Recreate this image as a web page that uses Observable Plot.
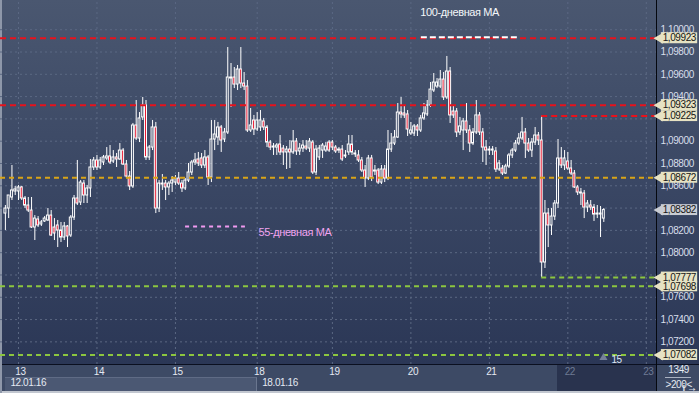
<!DOCTYPE html>
<html><head><meta charset="utf-8">
<script src="https://cdn.jsdelivr.net/npm/d3@7"></script>
<script src="https://cdn.jsdelivr.net/npm/@observablehq/plot@0.6"></script>
<style>
html,body{margin:0;padding:0;background:#2b3654;}
#chart{position:relative;width:699px;height:393px;overflow:hidden;font-family:"Liberation Sans",Arial,sans-serif;
 background:linear-gradient(to bottom,#4a5770 0px,#3a4764 180px,#2b3756 364px,#3d4a65 364px,#3d4a65 393px);}
.abs{position:absolute;}
#chart svg{position:absolute;left:0;top:0;}
#chart svg text{letter-spacing:-0.4px;}
</style></head>
<body>
<div id="chart">
  <div class="abs" style="left:0;top:364px;width:699px;height:1px;background:#0b1020"></div>
  <div class="abs" style="left:5px;top:377px;width:251px;height:13px;background:#4b5873;border-top:1px solid #5f6b85;border-right:1px solid #6a768f"></div>
  <div class="abs" style="left:557px;top:365px;width:99px;height:26px;background:#29334e"></div>
  <div class="abs" style="left:656px;top:0;width:1px;height:393px;background:#05080f"></div>
  <div class="abs" style="left:0;top:391px;width:699px;height:2px;background:#c2c7d0"></div>
  <div class="abs" style="left:0;top:0;width:2px;height:393px;background:#8e97a9"></div>
  <div class="abs" style="left:665px;top:377px;width:26px;height:1px;background:#aab2c2"></div>
</div>
<script>
// hourly EUR/USD candles, 12.01.16 20:00 -> 22.01.16, [open, high, low, close]
const ohlc = [
[1.08351,1.08423,1.08199,1.08396],[1.08396,1.08513,1.08306,1.08513],[1.08495,1.08782,1.08468,1.08558],[1.08549,1.08594,1.08513,1.08567],
[1.08549,1.08603,1.08468,1.08585],[1.08585,1.08594,1.08468,1.08486],[1.08486,1.08504,1.08396,1.08423],[1.08423,1.08495,1.08360,1.08378],
[1.08378,1.08495,1.08217,1.08226],[1.08226,1.08333,1.08109,1.08306],[1.08298,1.08324,1.08226,1.08244],[1.08253,1.08289,1.08235,1.08271],
[1.08280,1.08324,1.08271,1.08306],[1.08289,1.08396,1.08280,1.08333],[1.08333,1.08378,1.08145,1.08154],[1.08226,1.08306,1.08109,1.08172],
[1.08244,1.08289,1.08046,1.08199],[1.08199,1.08271,1.08091,1.08136],[1.08136,1.08271,1.08109,1.08235],[1.08235,1.08244,1.08046,1.08145],
[1.08154,1.08333,1.08136,1.08315],[1.08315,1.08513,1.08289,1.08486],[1.08486,1.08827,1.08423,1.08441],[1.08450,1.08647,1.08423,1.08629],
[1.08620,1.08647,1.08441,1.08513],[1.08513,1.08603,1.08441,1.08576],[1.08576,1.08836,1.08495,1.08764],[1.08764,1.08854,1.08737,1.08827],
[1.08827,1.08872,1.08737,1.08764],[1.08764,1.08854,1.08746,1.08827],[1.08809,1.08872,1.08782,1.08854],[1.08845,1.08943,1.08827,1.08863],
[1.08863,1.08961,1.08791,1.08809],[1.08818,1.08916,1.08800,1.08854],[1.08854,1.08890,1.08764,1.08836],[1.08836,1.08979,1.08827,1.08916],
[1.08916,1.08934,1.08782,1.08791],[1.08791,1.08827,1.08665,1.08683],[1.08683,1.08728,1.08558,1.08594],[1.08594,1.09159,1.08576,1.09141],
[1.09141,1.09365,1.09006,1.09024],[1.09024,1.09257,1.08988,1.09204],[1.09213,1.09392,1.09186,1.09320],[1.09320,1.09365,1.08827,1.08854],
[1.08854,1.08961,1.08827,1.08943],[1.08943,1.09186,1.08916,1.09123],[1.09123,1.09168,1.08351,1.08396],[1.08396,1.08647,1.08360,1.08620],
[1.08620,1.08701,1.08558,1.08611],[1.08620,1.08647,1.08468,1.08585],[1.08585,1.08638,1.08513,1.08620],[1.08620,1.08683,1.08540,1.08647],
[1.08629,1.08692,1.08603,1.08665],[1.08665,1.08719,1.08603,1.08620],[1.08620,1.08647,1.08540,1.08576],[1.08576,1.08665,1.08558,1.08647],
[1.08647,1.08800,1.08629,1.08719],[1.08719,1.08827,1.08692,1.08809],[1.08809,1.08890,1.08782,1.08827],[1.08836,1.08899,1.08773,1.08800],
[1.08845,1.08890,1.08755,1.08782],[1.08782,1.08916,1.08755,1.08854],[1.08854,1.08872,1.08603,1.08674],[1.08674,1.09186,1.08629,1.09015],
[1.09015,1.09186,1.08916,1.09060],[1.09033,1.09168,1.08961,1.09123],[1.09123,1.09141,1.08899,1.09006],[1.09015,1.09114,1.08988,1.09078],
[1.09078,1.09840,1.09060,1.09571],[1.09562,1.09697,1.09302,1.09571],[1.09571,1.09661,1.09472,1.09508],[1.09508,1.09679,1.09455,1.09643],
[1.09643,1.09840,1.09472,1.09517],[1.09517,1.09616,1.09455,1.09490],[1.09490,1.09544,1.09078,1.09096],[1.09096,1.09293,1.09078,1.09141],
[1.09186,1.09231,1.09051,1.09105],[1.09105,1.09257,1.09087,1.09186],[1.09123,1.09275,1.09087,1.09186],[1.09177,1.09204,1.09096,1.09123],
[1.09123,1.09141,1.08943,1.08988],[1.08988,1.09006,1.08916,1.08943],[1.08943,1.08979,1.08872,1.08952],[1.08943,1.08979,1.08872,1.08961],
[1.08970,1.09051,1.08872,1.08899],[1.08934,1.08961,1.08782,1.08899],[1.08899,1.08952,1.08746,1.08925],[1.08925,1.09006,1.08755,1.08899],
[1.08899,1.09096,1.08881,1.08997],[1.08997,1.09024,1.08872,1.08908],[1.08908,1.08979,1.08872,1.08934],[1.08934,1.09006,1.08899,1.08961],
[1.08952,1.09006,1.08916,1.08934],[1.08934,1.09024,1.08899,1.08997],[1.08988,1.09006,1.08701,1.08719],[1.08719,1.08961,1.08692,1.08925],
[1.08854,1.08961,1.08827,1.08934],[1.08916,1.08979,1.08845,1.08961],[1.08916,1.08988,1.08899,1.08952],[1.08988,1.09006,1.08899,1.08916],
[1.08988,1.09006,1.08916,1.08943],[1.08943,1.08961,1.08890,1.08908],[1.08925,1.08943,1.08890,1.08916],[1.08925,1.08961,1.08818,1.08836],
[1.08872,1.08916,1.08845,1.08863],[1.08899,1.09051,1.08872,1.08970],[1.08970,1.09051,1.08872,1.08899],[1.08890,1.08916,1.08854,1.08881],
[1.08872,1.08916,1.08809,1.08827],[1.08827,1.08854,1.08719,1.08737],[1.08737,1.08782,1.08585,1.08665],[1.08665,1.08872,1.08647,1.08845],
[1.08845,1.08872,1.08638,1.08674],[1.08737,1.08782,1.08692,1.08728],[1.08737,1.08755,1.08611,1.08629],[1.08629,1.08782,1.08611,1.08746],
[1.08746,1.08782,1.08629,1.08665],[1.08665,1.09096,1.08647,1.08925],[1.08925,1.09069,1.08899,1.08979],[1.08979,1.09096,1.08961,1.09033],
[1.09033,1.09338,1.09024,1.09257],[1.09257,1.09392,1.09204,1.09240],[1.09249,1.09320,1.09204,1.09231],[1.09240,1.09275,1.09042,1.09105],
[1.09069,1.09168,1.09051,1.09096],[1.09069,1.09150,1.09042,1.09132],[1.09132,1.09150,1.09042,1.09096],[1.09096,1.09231,1.09078,1.09204],
[1.09204,1.09338,1.09186,1.09249],[1.09240,1.09365,1.09222,1.09320],[1.09320,1.09526,1.09302,1.09463],[1.09455,1.09607,1.09437,1.09526],
[1.09490,1.09562,1.09472,1.09526],[1.09490,1.09634,1.09472,1.09553],[1.09553,1.09616,1.09365,1.09392],[1.09392,1.09760,1.09374,1.09625],
[1.09625,1.09661,1.09159,1.09231],[1.09266,1.09320,1.09204,1.09231],[1.09266,1.09293,1.09033,1.09078],[1.09078,1.09213,1.09051,1.09132],
[1.09096,1.09204,1.08916,1.09177],[1.09177,1.09338,1.09069,1.09096],[1.09096,1.09141,1.08899,1.08979],[1.08979,1.09114,1.08961,1.09078],
[1.09078,1.09365,1.09060,1.09231],[1.09231,1.09257,1.09051,1.09078],[1.09078,1.09114,1.08809,1.08943],[1.08943,1.09006,1.08782,1.08916],
[1.08925,1.08952,1.08872,1.08916],[1.08916,1.08952,1.08872,1.08925],[1.08908,1.08943,1.08719,1.08746],[1.08746,1.08827,1.08728,1.08800],
[1.08755,1.08782,1.08692,1.08710],[1.08710,1.08791,1.08701,1.08773],[1.08773,1.08890,1.08755,1.08872],[1.08872,1.08934,1.08845,1.08916],
[1.08916,1.09006,1.08899,1.08979],[1.08979,1.09069,1.08961,1.09024],[1.09024,1.09213,1.09006,1.09078],[1.09078,1.09114,1.08845,1.08979],
[1.08979,1.09024,1.08899,1.08916],[1.08916,1.09024,1.08854,1.08988],[1.08988,1.09123,1.08961,1.09051],[1.09051,1.09078,1.08961,1.09006],
[1.09006,1.09225,1.07777,1.07912],[1.07912,1.08468,1.07858,1.08351],[1.08351,1.08396,1.08046,1.08244],[1.08244,1.08396,1.08154,1.08324],
[1.08324,1.08468,1.08289,1.08441],[1.08441,1.09015,1.08396,1.08845],[1.08845,1.08943,1.08755,1.08782],[1.08782,1.08916,1.08737,1.08845],
[1.08818,1.08899,1.08737,1.08755],[1.08755,1.08827,1.08692,1.08710],[1.08710,1.08737,1.08576,1.08585],[1.08585,1.08603,1.08513,1.08540],
[1.08540,1.08576,1.08423,1.08531],[1.08531,1.08558,1.08306,1.08405],[1.08405,1.08468,1.08360,1.08441],[1.08423,1.08468,1.08378,1.08405],
[1.08405,1.08432,1.08280,1.08342],[1.08342,1.08423,1.08306,1.08351],[1.08342,1.08414,1.08136,1.08351],[1.08306,1.08396,1.08271,1.08382]
];
const dayTicks  = [4, 28, 52, 77, 100, 124, 148, 172, 196];
const dayLabels = ["13","14","15","18","19","20","21","22","23"];
const dateTicks  = [0, 77];
const dateLabels = ["12.01.16","18.01.16"];
const priceTicks = [1.072,1.074,1.076,1.078,1.080,1.082,1.084,1.086,1.088,1.090,1.092,1.094,1.096,1.098,1.100];
const resistLevels  = [1.09923, 1.09323];
const spikeHigh = 1.09225;
const pivotLevel = 1.08672;
const spikeLow = 1.07777;
const supportLevels = [1.07698, 1.07082];
const lastPrice = 1.08382;
const ma100Label = "100-дневная MA", ma55Label = "55-дневная MA";
const ma100Level = 1.09933, ma55Level = 1.08235;
const barsCount = 15;
const cornerTexts = ["1349", ">200<"];

const candles = ohlc.map(([o,h,l,c],i)=>({i,o,h,l,c}));
const spikeIdx = candles.reduce((m,d)=>d.l<candles[m].l?d.i:m,0);
const XL = -1.4985, XR = 199.1, YB = 1.06997, YT = 1.10262;
const fmt = v => v.toFixed(5).replace(".", ",");
const dayMap = new Map(dayTicks.map((t,k)=>[t,dayLabels[k]]));
const dateMap = new Map(dateTicks.map((t,k)=>[t,dateLabels[k]]));
const RED="#e8121c", GOLD="#d9a417", GREEN="#8cc63f";
const fullLevels = [...resistLevels.map(v=>({v,c:RED})),{v:pivotLevel,c:GOLD},...supportLevels.map(v=>({v,c:GREEN}))];
const partLevels = [{v:spikeHigh,c:RED},{v:spikeLow,c:GREEN}];
const tagValues = [...resistLevels, spikeHigh, pivotLevel, spikeLow, ...supportLevels];
const tags = tagValues.map(v=>({v}));
const lastTag = [{v:lastPrice}];
const H2 = 0.00049;
// tick labels fully hidden under a price tag are not drawn
const shownTicks = priceTicks.filter(t => ![...tagValues, lastPrice].some(v => Math.abs(v - t) < 0.0004));

const plot = Plot.plot({
  width: 699, height: 393,
  marginTop: 0, marginBottom: 29, marginLeft: 0, marginRight: 0,
  style: {background: "transparent", fontFamily: "Liberation Sans, Arial, sans-serif", fontSize: "10px", color: "#dfe5f0"},
  x: {domain: [XL, 212.263]},
  y: {domain: [YB, YT]},
  marks: [
    Plot.ruleY(priceTicks, {y: d=>d, x1: ()=>XL, x2: ()=>XR, stroke: "#5b6883", strokeDasharray: "2,3"}),
    Plot.ruleX(dayTicks, {x: d=>d, y1: ()=>YB, y2: ()=>YT, stroke: "#5b6883", strokeDasharray: "2,3"}),
    Plot.axisY(shownTicks, {anchor: "right", tickSize: 0, tickPadding: 0, dx: -39, textAnchor: "start", tickFormat: fmt, fill: "#d8dfeb"}),
    Plot.axisX(dayTicks.slice(0,7), {anchor: "bottom", tickSize: 0, tickPadding: 3, dx: 2, tickFormat: d=>dayMap.get(d), fill: "#e4e9f2"}),
    Plot.axisX(dayTicks.slice(7), {anchor: "bottom", tickSize: 0, tickPadding: 3, dx: 2, tickFormat: d=>dayMap.get(d), fill: "#6e7a94"}),
    Plot.axisX(dateTicks, {anchor: "bottom", tickSize: 0, tickPadding: 14, dx: 5, textAnchor: "start", tickFormat: d=>dateMap.get(d), fill: "#e4e9f2"}),
    // candles
    Plot.ruleX(candles, {x: "i", y1: "h", y2: d=>Math.max(d.o,d.c), stroke: "white", strokeWidth: 1}),
    Plot.ruleX(candles, {x: "i", y1: "l", y2: d=>Math.min(d.o,d.c), stroke: "white", strokeWidth: 1}),
    Plot.rect(candles.filter(d=>d.c<d.o), {x1: d=>d.i-0.3, x2: d=>d.i+0.3, y1: "o", y2: "c", fill: "#e8102a", stroke: "white", strokeWidth: 1}),
    Plot.rect(candles.filter(d=>d.c>=d.o), {x1: d=>d.i-0.3, x2: d=>d.i+0.3, y1: "o", y2: "c", fill: "none", stroke: "white", strokeWidth: 1}),
    // levels
    Plot.ruleY(fullLevels.filter(d=>d.c===RED), {y: "v", x1: ()=>XL, x2: ()=>XR, stroke: RED, strokeWidth: 2, strokeDasharray: "6,4"}),
    Plot.ruleY(fullLevels.filter(d=>d.c===GOLD), {y: "v", x1: ()=>XL, x2: ()=>XR, stroke: GOLD, strokeWidth: 2, strokeDasharray: "5,4"}),
    Plot.ruleY(fullLevels.filter(d=>d.c===GREEN), {y: "v", x1: ()=>XL, x2: ()=>XR, stroke: GREEN, strokeWidth: 2, strokeDasharray: "5,4"}),
    Plot.ruleY(partLevels.filter(d=>d.c===RED), {y: "v", x1: ()=>spikeIdx, x2: ()=>XR, stroke: RED, strokeWidth: 2, strokeDasharray: "6,4"}),
    Plot.ruleY(partLevels.filter(d=>d.c===GREEN), {y: "v", x1: ()=>spikeIdx, x2: ()=>XR, stroke: GREEN, strokeWidth: 2, strokeDasharray: "5,4"}),
    // MA legend swatches
    Plot.ruleY([ma100Level], {y: d=>d, x1: ()=>127.2, x2: ()=>157.2, stroke: "white", strokeWidth: 2, strokeDasharray: "6,3"}),
    Plot.ruleY([ma55Level], {y: d=>d, x1: ()=>55.1, x2: ()=>73.4, stroke: "#f09af0", strokeWidth: 2, strokeDasharray: "4,4"}),
    Plot.text([ma100Label], {x: ()=>126.9, y: ()=>1.10154, text: d=>d, textAnchor: "start", fill: "#f4f6fa", fontSize: 11}),
    Plot.text([ma55Label], {x: ()=>77.4, y: ()=>1.08181, text: d=>d, textAnchor: "start", fill: "#f0a4f0", fontSize: 11}),
    // bar counter marker
    Plot.dot([barsCount], {x: ()=>182.9, y: ()=>1.07058, symbol: "triangle", r: 3, fill: "#75809a"}),
    Plot.text([barsCount], {x: ()=>186.9, y: ()=>1.07042, text: d=>String(d), fill: "#dfe7f5", fontSize: 10}),
    // bottom-right corner cell
    Plot.text(cornerTexts, {x: ()=>205.9, y: (d,i)=> i===0 ? 1.06946 : 1.06812, text: d=>d, fill: "#e6ebf3", fontSize: 10}),
    // price tags
    Plot.dot(tags, {x: ()=>200.1, y: "v", symbol: "triangle", r: 4, rotate: -90, fill: "#e6e2c3"}),
    Plot.rect(tags, {x1: ()=>200.6, x2: ()=>211.7, y1: d=>d.v-H2, y2: d=>d.v+H2, fill: "#e6e2c3"}),
    Plot.text(tags, {x: ()=>201.0, y: "v", text: d=>fmt(d.v), textAnchor: "start", fill: "#151515", fontSize: 10}),
    Plot.dot(lastTag, {x: ()=>200.1, y: "v", symbol: "triangle", r: 4, rotate: -90, fill: "#c9ccd3"}),
    Plot.rect(lastTag, {x1: ()=>200.6, x2: ()=>211.7, y1: d=>d.v-H2, y2: d=>d.v+H2, fill: "#c9ccd3"}),
    Plot.text(lastTag, {x: ()=>201.0, y: "v", text: d=>fmt(d.v), textAnchor: "start", fill: "#151515", fontSize: 10})
  ]
});
document.getElementById("chart").appendChild(plot);
</script>
</body></html>
